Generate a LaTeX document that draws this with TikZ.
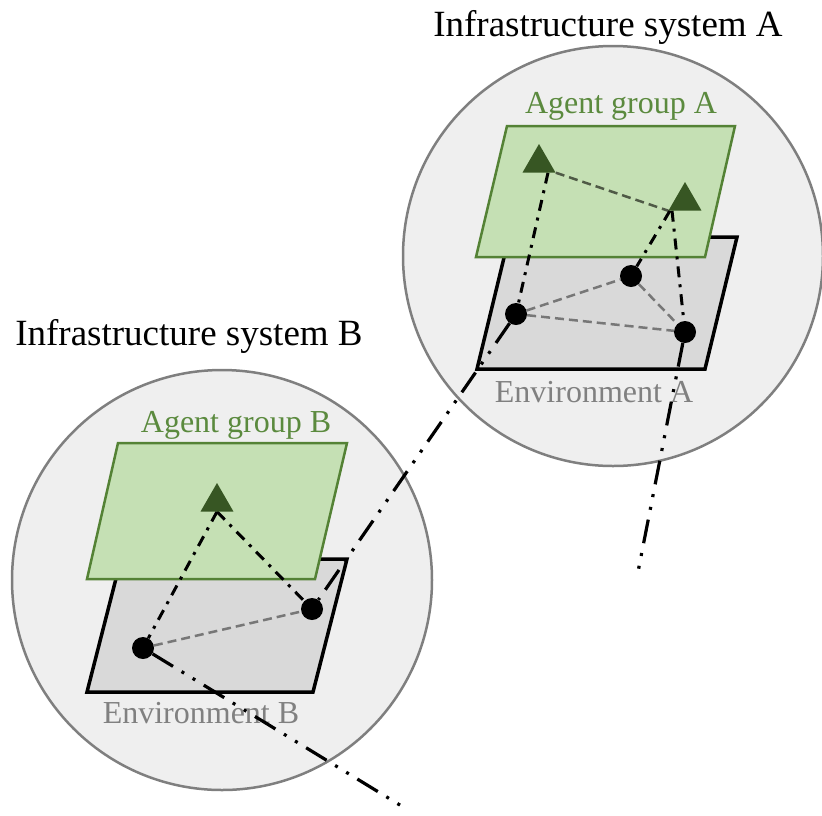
\documentclass[tikz,border=0pt]{standalone}
\usepackage{fontspec}
\setmainfont{Liberation Serif}
\usetikzlibrary{shapes.geometric}

\definecolor{ringfill}{HTML}{EFEFEF}
\definecolor{ringline}{HTML}{7F7F7F}
\definecolor{agentfill}{HTML}{C5E0B4}
\definecolor{agentline}{HTML}{548235}
\definecolor{agentmark}{HTML}{375623}
\definecolor{agenttext}{HTML}{5B8A3E}
\definecolor{envfill}{HTML}{D9D9D9}
\definecolor{envtext}{HTML}{808080}
\definecolor{peerline}{HTML}{777777}
\definecolor{agentpeer}{HTML}{4F5A46}

\pgfdeclarelayer{bg}
\pgfdeclarelayer{links}
\pgfsetlayers{bg,links,main}

\begin{document}
\begin{tikzpicture}[x=1pt,y=-1pt,
  ring/.style={circle, draw=ringline, line width=2.5pt, fill=ringfill,
    minimum size=420pt, inner sep=0pt},
  envplane/.style={draw=black, line width=3.5pt, fill=envfill, line join=miter},
  agentplane/.style={draw=agentline, line width=2.5pt, fill=agentfill, line join=miter},
  agent/.style={regular polygon, regular polygon sides=3, fill=agentmark,
    minimum size=38pt, inner sep=0pt},
  site/.style={circle, fill=black, minimum size=22pt, inner sep=0pt},
  title/.style={font=\fontsize{37}{44}\selectfont, anchor=base, inner sep=0pt},
  grouplabel/.style={font=\fontsize{32}{38}\selectfont, text=agenttext, anchor=base, inner sep=0pt},
  envlabel/.style={font=\fontsize{32}{38}\selectfont, text=envtext, anchor=base, inner sep=0pt},
  peerlink/.style={draw=peerline, line width=2.5pt, dash pattern=on 9pt off 5pt},
  agentpeerlink/.style={draw=agentpeer, line width=2.5pt, dash pattern=on 9pt off 5pt},
  controllink/.style={draw=black, line width=3pt, dash pattern=on 11pt off 7pt on 3pt off 7pt},
  crosslink/.style={draw=black, line width=3.2pt,
    dash pattern=on 24pt off 10pt on 3pt off 10pt on 3pt off 10pt}
]
\useasboundingbox (0,0) rectangle (822,815);

% systems, planes and labels
\begin{pgfonlayer}{bg}
  \node[ring] (ringA) at (613,256) {};
  \node[ring] (ringB) at (222,580) {};

  \draw[envplane]   (509,237) -- (737,237) -- (705,369) -- (477,369) -- cycle;
  \draw[agentplane] (507,126) -- (735,126) -- (705,257) -- (476,257) -- cycle;

  \draw[envplane]   (121,559) -- (347,559) -- (313,692) -- (87,692) -- cycle;
  \draw[agentplane] (118,443) -- (347,443) -- (315,579) -- (87,579) -- cycle;

  \node[title] (titleA) at (608,36) {Infrastructure system A};
  \node[title] (titleB) at (189,345) {Infrastructure system B};
  \node[grouplabel] (groupA) at (621,113) {Agent group A};
  \node[grouplabel] (groupB) at (236,432) {Agent group B};
  \node[envlabel] (envA) at (594,402) {Environment A};
  \node[envlabel] (envB) at (201,723) {Environment B};
\end{pgfonlayer}

% agents and environment sites
\node[agent] (ta1) at (539,163) {};
\node[agent] (ta2) at (685,201) {};
\node[site]  (da1) at (516,314) {};
\node[site]  (da2) at (631,276) {};
\node[site]  (da3) at (685,332) {};

\node[agent] (tb1) at (217,502) {};
\node[site]  (db1) at (143,648) {};
\node[site]  (db2) at (312,609) {};

\coordinate (endA) at (637,577);
\coordinate (endB) at (408,810);

% connections
\begin{pgfonlayer}{links}
  \draw[peerlink] (da1) -- (da2);
  \draw[peerlink] (da1) -- (da3);
  \draw[peerlink] (da2) -- (da3);
  \draw[peerlink] (db1) -- (db2);

  \draw[agentpeerlink] (ta1.corner 3) -- (ta2.corner 2);

  \draw[controllink] ([xshift=9pt]ta1.side 2) -- (da1);
  \draw[controllink] ([xshift=-15pt]ta2.side 2) -- (da2);
  \draw[controllink] ([xshift=-13pt]ta2.side 2) -- (da3);
  \draw[controllink] (tb1.side 2) -- (db1);
  \draw[controllink] (tb1.side 2) -- (db2);

  \draw[crosslink] (da1) -- (db2);
  \draw[crosslink] (da3) -- (endA);
  \draw[crosslink] (db1) -- (endB);
\end{pgfonlayer}
\end{tikzpicture}
\end{document}
